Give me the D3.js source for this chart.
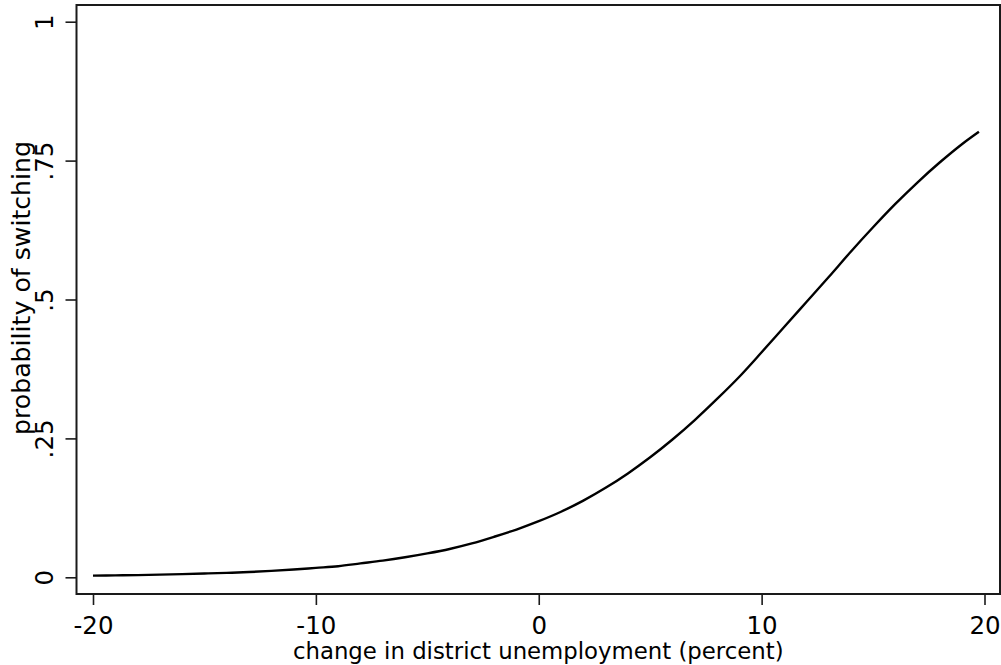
<!DOCTYPE html>
<html>
<head>
<meta charset="utf-8">
<script src="https://cdn.jsdelivr.net/npm/d3@7"></script>
<style>
  html, body { margin: 0; padding: 0; background: #fff; }
  svg { display: block; }
  text { font-family: "DejaVu Sans", Verdana, sans-serif; fill: #000; }
</style>
</head>
<body>
<svg id="chart" width="1001" height="665"></svg>
<script>
// Data
const unemploymentChange = [-20, -19, -18, -17, -16, -15, -14, -13, -12, -11, -10, -9, -8, -7, -6, -5, -4, -3, -2, -1, 0, 1, 2, 3, 4, 5, 6, 7, 8, 9, 10, 11, 12, 13, 14, 15, 16, 17, 18, 19, 19.75];
const switchProbability = [0.003, 0.0035, 0.004, 0.0048, 0.0057, 0.0068, 0.008, 0.0095, 0.0115, 0.014, 0.017, 0.020, 0.025, 0.030, 0.036, 0.043, 0.051, 0.061, 0.073, 0.086, 0.101, 0.118, 0.138, 0.161, 0.187, 0.216, 0.248, 0.283, 0.321, 0.361, 0.405, 0.450, 0.495, 0.540, 0.586, 0.630, 0.672, 0.711, 0.747, 0.780, 0.802];
const xTicks = [-20, -10, 0, 10, 20];
const xTickLabels = ["-20", "-10", "0", "10", "20"];
const yTicks = [0, 0.25, 0.5, 0.75, 1];
const yTickLabels = ["0", ".25", ".5", ".75", "1"];
const xTitle = "change in district unemployment (percent)";
const yTitle = "probability of switching";

const svg = d3.select("#chart");
const frame = { left: 76.5, right: 1000, top: 5, bottom: 594 };

const x = d3.scaleLinear().domain([-20, 20]).range([93, 984.5]);
const y = d3.scaleLinear().domain([0, 1]).range([577.3, 21.7]);

// plot frame
svg.append("rect")
  .attr("x", frame.left).attr("y", frame.top)
  .attr("width", frame.right - frame.left).attr("height", frame.bottom - frame.top)
  .attr("fill", "none").attr("stroke", "#1a1a1a").attr("stroke-width", 2);

// x axis
const xAxis = d3.axisBottom(x).tickValues(xTicks)
  .tickFormat((d, i) => xTickLabels[i]).tickSize(11).tickPadding(6);
const gx = svg.append("g").attr("transform", `translate(0,${frame.bottom})`).call(xAxis);
gx.select(".domain").remove();
gx.selectAll(".tick line").attr("stroke", "#1a1a1a").attr("stroke-width", 1.6);
gx.selectAll(".tick text").attr("font-size", 24.5).attr("font-family", "DejaVu Sans")
  .attr("y", null).attr("dy", null).attr("transform", "translate(0,40)");

// y axis
const yAxis = d3.axisLeft(y).tickValues(yTicks)
  .tickFormat((d, i) => yTickLabels[i]).tickSize(11);
const gy = svg.append("g").attr("transform", `translate(${frame.left},0)`).call(yAxis);
gy.select(".domain").remove();
gy.selectAll(".tick line").attr("stroke", "#1a1a1a").attr("stroke-width", 1.6);
gy.selectAll(".tick text")
  .attr("font-size", 24.5).attr("font-family", "DejaVu Sans")
  .attr("x", null).attr("dy", null)
  .attr("text-anchor", "middle")
  .attr("transform", "translate(-24,0) rotate(-90)");

// axis titles
svg.append("text")
  .attr("x", (frame.left + frame.right) / 2).attr("y", 659)
  .attr("text-anchor", "middle").attr("font-size", 22.8)
  .text(xTitle);
svg.append("text")
  .attr("transform", `translate(30,288) rotate(-90)`)
  .attr("text-anchor", "middle").attr("font-size", 25.2)
  .text(yTitle);

// curve
const line = d3.line()
  .x((d, i) => x(unemploymentChange[i]))
  .y(d => y(d))
  .curve(d3.curveCatmullRom);
svg.append("path")
  .datum(switchProbability)
  .attr("d", line)
  .attr("fill", "none")
  .attr("stroke", "#000")
  .attr("stroke-width", 2.4);
</script>
</body>
</html>
